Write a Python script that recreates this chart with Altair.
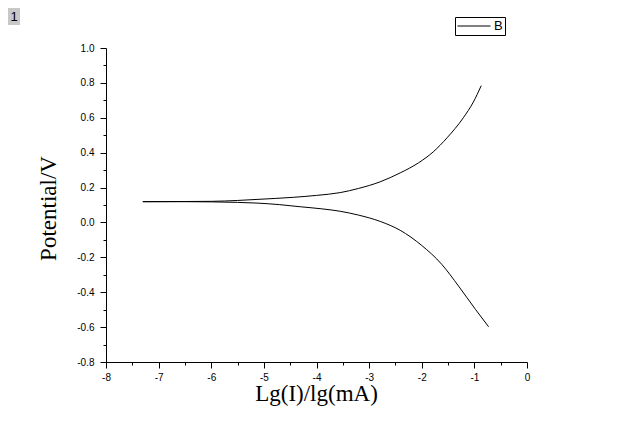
import altair as alt
import pandas as pd

# Upper (anodic) branch
upper_x = [-7.3, -6.5, -6.0, -5.5, -5.13, -4.44, -4.0, -3.55, -3.2, -2.79, -2.41, -2.06, -1.78, -1.52, -1.21, -1.02, -0.87]
upper_y = [0.119, 0.12, 0.121, 0.126, 0.132, 0.144, 0.155, 0.171, 0.195, 0.233, 0.284, 0.342, 0.405, 0.485, 0.6, 0.69, 0.784]

# Lower (cathodic) branch
lower_x = [-7.3, -6.5, -6.0, -5.5, -5.13, -4.7, -4.31, -3.9, -3.55, -3.2, -2.79, -2.41, -2.0, -1.62, -1.3, -0.98, -0.73]
lower_y = [0.119, 0.119, 0.118, 0.115, 0.111, 0.102, 0.09, 0.078, 0.064, 0.042, 0.006, -0.045, -0.132, -0.24, -0.365, -0.498, -0.598]

series_name = "B"
x_major = [-8, -7, -6, -5, -4, -3, -2, -1, 0]
x_minor = [-7.5, -6.5, -5.5, -4.5, -3.5, -2.5, -1.5, -0.5]
y_major = [-0.8, -0.6, -0.4, -0.2, 0.0, 0.2, 0.4, 0.6, 0.8, 1.0]
y_minor = [-0.7, -0.5, -0.3, -0.1, 0.1, 0.3, 0.5, 0.7, 0.9]

rows = []
for xv, yv in zip(upper_x, upper_y):
    rows.append({"x": xv, "y": yv, "branch": "upper", "series": series_name})
for xv, yv in zip(lower_x, lower_y):
    rows.append({"x": xv, "y": yv, "branch": "lower", "series": series_name})
df = pd.DataFrame(rows)

xs = alt.Scale(domain=[-8, 0], nice=False, zero=False)
ys = alt.Scale(domain=[-0.8, 1.0], nice=False, zero=False)

common_axis = dict(
    grid=False, domainColor="black", tickColor="black", labelColor="black",
    labelFont="Liberation Sans", labelFontSize=10, labelFlush=False,
    titleFont="Liberation Serif", titleFontSize=23, titleFontWeight="normal",
    titleColor="black", domainWidth=1, tickWidth=1,
)

x_axis = alt.Axis(values=x_major, tickSize=6, labelPadding=4,
                  labelExpr="replace(format(datum.value, 'd'), '\u2212', '-')",
                  title="Lg(I)/lg(mA)", titleX=210, titleY=38,
                  titleAlign="center", titleBaseline="alphabetic", orient="bottom",
                  **common_axis)
y_axis = alt.Axis(values=y_major, tickSize=6, labelPadding=6,
                  labelExpr="replace(format(datum.value, '.1f'), '\u2212', '-')",
                  title="Potential/V", titleX=-51, titleY=160, titleAngle=270,
                  titleAlign="center", titleBaseline="alphabetic", orient="left",
                  **common_axis)

x_axis_minor = alt.Axis(values=x_minor, labels=False, domain=False, tickSize=3,
                        grid=False, tickColor="black", title="", orient="bottom")
y_axis_minor = alt.Axis(values=y_minor, labels=False, domain=False, tickSize=3,
                        grid=False, tickColor="black", title="", orient="left")

base = alt.Chart(df)

line = base.mark_line(strokeWidth=1, interpolate="monotone").encode(
    x=alt.X("x:Q", scale=xs, axis=x_axis),
    y=alt.Y("y:Q", scale=ys, axis=y_axis),
    color=alt.Color(
        "series:N",
        scale=alt.Scale(range=["black"]),
        legend=alt.Legend(
            title=None, orient="none", legendX=349, legendY=-31,
            symbolType="stroke", symbolSize=1089, symbolStrokeWidth=1,
            symbolStrokeColor="black", clipHeight=14,
            labelFont="Liberation Sans", labelFontSize=13, labelColor="black",
            labelOffset=3, strokeColor="black", padding=2, fillColor="white",
        ),
    ),
    detail="branch:N",
)

minor = base.mark_line(strokeOpacity=0).encode(
    x=alt.X("x:Q", scale=xs, axis=x_axis_minor),
    y=alt.Y("y:Q", scale=ys, axis=y_axis_minor),
    detail="branch:N",
)

badge_df = pd.DataFrame({"label": ["1"]})
badge_rect = alt.Chart(badge_df).mark_rect(color="#c8c8c8").encode(
    x=alt.value(-98), x2=alt.value(-86), y=alt.value(-40), y2=alt.value(-23)
)
badge_text = alt.Chart(badge_df).mark_text(
    font="Liberation Sans", fontSize=13, color="black", align="center", baseline="middle"
).encode(x=alt.value(-92), y=alt.value(-31), text="label:N")

chart = alt.layer(line, minor, badge_rect, badge_text).resolve_axis(
    x="independent", y="independent"
).properties(
    width=421, height=314,
    autosize=alt.AutoSizeParams(type="none"),
    padding={"left": 98, "top": 40, "right": 86, "bottom": 75},
    background="white",
).configure_view(stroke=None)

chart.save("out.html", embed_options={"renderer": "svg", "actions": False})
